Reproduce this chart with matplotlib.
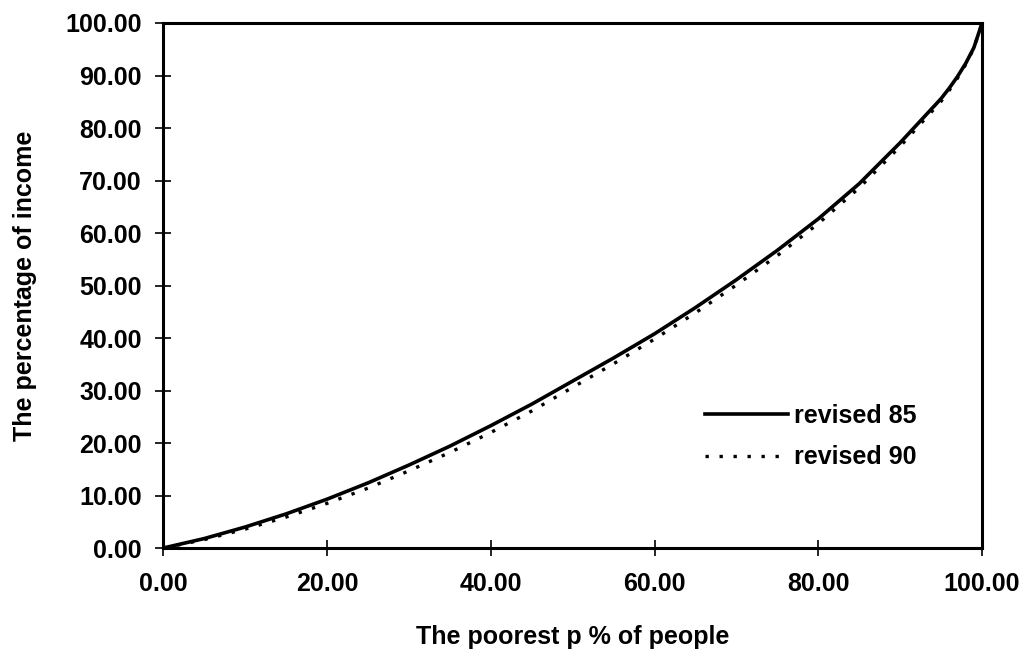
import matplotlib
matplotlib.use('Agg')
import matplotlib.pyplot as plt

# Lorenz curves (x: poorest p %, y: % of income)
p_people = [0, 5, 10, 15, 20, 25, 30, 35, 40, 45, 50, 55, 60, 65, 70, 75, 80, 85, 90, 95,
            96, 97, 98, 99, 100]
revised_85 = [0, 1.8, 4.0, 6.5, 9.3, 12.4, 15.8, 19.4, 23.3, 27.4, 31.8, 36.2, 40.8, 45.8,
              51.1, 56.7, 62.7, 69.4, 77.2, 85.6, 87.6, 89.8, 92.3, 95.3, 100]
revised_90 = [0, 1.6, 3.6, 5.9, 8.5, 11.4, 14.7, 18.2, 22.0, 26.1, 30.6, 35.1, 39.8, 44.8,
              50.1, 55.7, 61.8, 68.6, 76.5, 85.1, 87.2, 89.5, 92.1, 95.2, 100]

x_ticks = [0, 20, 40, 60, 80, 100]
y_ticks = list(range(0, 101, 10))

plt.rcParams['font.family'] = ['Liberation Sans', 'DejaVu Sans']
plt.rcParams['font.weight'] = 'bold'
plt.rcParams['font.size'] = 18

fig = plt.figure(figsize=(10.32, 6.59), dpi=100)
ax = fig.add_axes([0.1582, 0.1684, 0.7934, 0.7967])

ax.plot(p_people, revised_85, color='black', linewidth=2.6, label='revised 85')
ax.plot(p_people, revised_90, color='black', linewidth=2.4, linestyle=(0, (1, 3.2)),
        label='revised 90')

ax.set_xlim(0, 100)
ax.set_ylim(0, 100)
ax.set_xticks(x_ticks)
ax.set_yticks(y_ticks)
ax.set_xticklabels([f'{v:.2f}' for v in x_ticks])
ax.set_yticklabels([f'{v:.2f}' for v in y_ticks])

for s in ax.spines.values():
    s.set_linewidth(2.2)
ax.tick_params(direction='inout', length=11, width=1.2, color='black')
ax.tick_params(axis='x', pad=12)
ax.tick_params(axis='y', pad=10)

ax.set_xlabel('The poorest p % of people', fontweight='bold', va='center')
ax.set_ylabel('The percentage of income', fontweight='bold', va='center')
ax.xaxis.set_label_coords(0.5, -0.1695)
ax.yaxis.set_label_coords(-0.169, 0.5)

ax.legend(loc='center left', bbox_to_anchor=(0.662, 0.212), frameon=False,
          handlelength=3.3, handletextpad=0.25, labelspacing=0.7,
          borderpad=0, borderaxespad=0, prop={'weight': 'bold', 'size': 18})

fig.savefig('out.png', dpi=100)
